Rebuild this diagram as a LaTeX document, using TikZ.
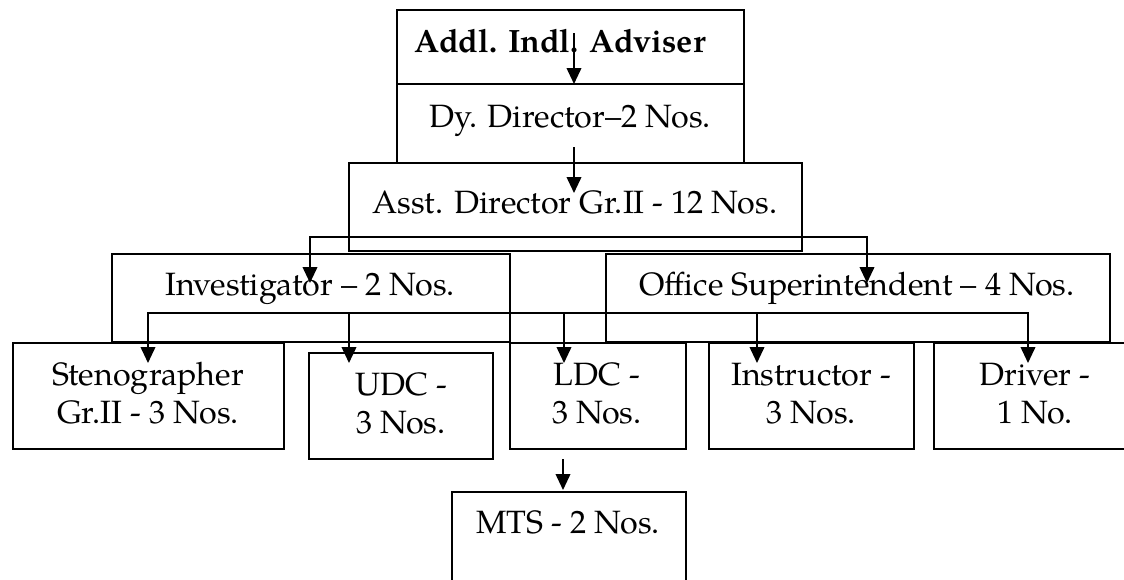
\documentclass[tikz,border=0pt]{standalone}
\usepackage{fontspec}
\setmainfont{TeX Gyre Pagella}
\usetikzlibrary{arrows.meta,fit}
\tikzset{
  box/.style={draw=black, line width=1.3pt, inner sep=0pt, fill=white},
  lbl/.style={anchor=base, inner sep=0pt, font=\fontsize{24.2}{28}\selectfont},
  arr/.style={draw=black, line width=1.3pt, -{Triangle[width=11pt,length=12pt]}},
  arrboth/.style={draw=black, line width=1.3pt, {Triangle[width=11pt,length=12pt]}-{Triangle[width=11pt,length=12pt]}}
}
\begin{document}
\begin{tikzpicture}[x=0.75pt, y=-0.75pt]
\useasboundingbox (0,0) rectangle (1124,579);
\clip (0,0) rectangle (1124,579);
% boxes
\node[box, fit={(397,84) (744,163)}] (dy) {};
\node[box, fit={(397,10) (744,84)}] (addl) {};
\node[box, fit={(349,163) (802,251)}] (asst) {};
\node[box, fit={(112,254) (510,342)}] (inv) {};
\node[box, fit={(606,254) (1110,342)}] (off) {};
\node[box, fit={(13,343) (284,449)}] (steno) {};
\node[box, fit={(309,353) (493,459)}] (udc) {};
\node[box, fit={(510,343) (686,449)}] (ldc) {};
\node[box, fit={(709,343) (914,449)}] (instr) {};
\node[box, fit={(934,343) (1140,449)}] (drv) {};
\node[box, fit={(452,492) (686,590)}] (mts) {};
% texts
\node[lbl, font=\fontsize{24.2}{28}\selectfont\bfseries] (addlt) at (560,52) {Addl. Indl. Adviser};
\node[lbl] (dyt) at (570,127) {Dy. Director–2 Nos.};
\node[lbl] (asstt) at (575,213) {Asst. Director Gr.II - 12 Nos.};
\node[lbl] (invt) at (310,295) {Investigator – 2 Nos.};
\node[lbl] (offt) at (857,295) {Office Superintendent – 4 Nos.};
\node[lbl] (stenoa) at (148,385) {Stenographer};
\node[lbl] (stenob) at (148,423) {Gr.II - 3 Nos.};
\node[lbl] (udca) at (401,395) {UDC -};
\node[lbl] (udcb) at (401,433) {3 Nos.};
\node[lbl] (ldca) at (597,385) {LDC -};
\node[lbl] (ldcb) at (597,423) {3 Nos.};
\node[lbl] (instra) at (811,385) {Instructor -};
\node[lbl] (instrb) at (811,423) {3 Nos.};
\node[lbl] (drva) at (1035,385) {Driver -};
\node[lbl] (drvb) at (1035,423) {1 No.};
\node[lbl] (mtst) at (568,533) {MTS - 2 Nos.};
% connector points
\coordinate (a1s) at (574,33);   \coordinate (a1e) at (574,84);
\coordinate (a2s) at (574,147);  \coordinate (a2e) at (574,193);
\coordinate (invtip) at (310,283); \coordinate (offtip) at (867,283);
\coordinate (hb1) at (0,237);
\coordinate (stenotip) at (148,363); \coordinate (udctip) at (349,363);
\coordinate (ldctip) at (564,363); \coordinate (instrtip) at (757,363);
\coordinate (drvtip) at (1028,363);
\coordinate (hb2) at (0,313);
\coordinate (ms) at (563,459); \coordinate (me) at (563,490);
% connectors
\draw[arr] (a1s) -- (a1e);
\draw[arr] (a2s) -- (a2e);
\draw[arrboth] (invtip) -- (invtip |- hb1) -- (offtip |- hb1) -- (offtip);
\draw[arrboth] (stenotip) -- (stenotip |- hb2) -- (drvtip |- hb2) -- (drvtip);
\draw[arr] (udctip |- hb2) -- (udctip);
\draw[arr] (ldctip |- hb2) -- (ldctip);
\draw[arr] (instrtip |- hb2) -- (instrtip);
\draw[arr] (ms) -- (me);
\end{tikzpicture}
\end{document}
